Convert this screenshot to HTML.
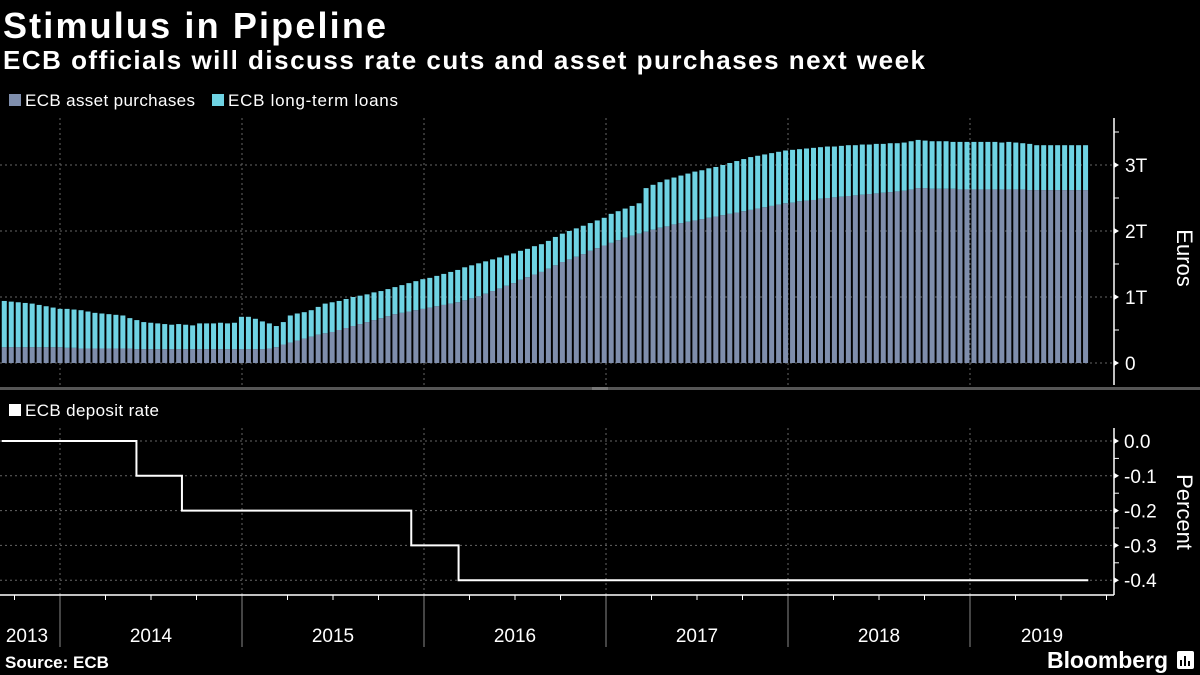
<!DOCTYPE html>
<html><head><meta charset="utf-8">
<style>
html,body{margin:0;padding:0;background:#000;}
svg{display:block;font-family:"Liberation Sans",sans-serif;}
</style></head>
<body>
<svg id="chart" width="1200" height="675" viewBox="0 0 1200 675">
<rect width="1200" height="675" fill="#000"/>
<text x="3" y="38" fill="#fff" font-size="36" font-weight="bold" textLength="383">Stimulus in Pipeline</text>
<text x="3" y="69" fill="#fff" font-size="26" font-weight="bold" textLength="922">ECB officials will discuss rate cuts and asset purchases next week</text>
<g>
<rect x="9" y="94" width="12" height="12" fill="#7f8eac"/>
<text x="25" y="106" fill="#fff" font-size="17" textLength="170">ECB asset purchases</text>
<rect x="212" y="94" width="12" height="12" fill="#6fd3e3"/>
<text x="228" y="106" fill="#fff" font-size="17" textLength="170">ECB long-term loans</text>
</g>
<rect x="0" y="387" width="1200" height="3" fill="#555"/>
<rect x="592" y="387" width="16" height="3" fill="#777"/>
<g>
<rect x="9" y="404" width="12" height="12" fill="#fff"/>
<text x="25" y="416" fill="#fff" font-size="17" textLength="134">ECB deposit rate</text>
</g>
<g id="grid"></g>
<g id="bars"></g>
<g id="rate"></g>
<g id="axes"></g>
<text x="5" y="668" fill="#fff" font-size="17" font-weight="bold">Source: ECB</text>
<text x="1047" y="668" fill="#fff" font-size="23" font-weight="bold" textLength="121">Bloomberg</text>
<rect x="1177" y="651" width="17" height="18" rx="2" fill="#fff"/>
<path d="M1181 666V660M1185 666V656M1189 666V661" stroke="#000" stroke-width="2"/>
</svg>
<script>
// ---- data ----
const startYear = 2013.68;            // first bi-weekly observation
const stepYears = 14 / 365.25;        // bi-weekly spacing
const totalBalance = [
0.94,0.93,0.92,0.91,0.90,0.88,0.86,0.84,0.82,0.82,
0.81,0.80,0.78,0.76,0.75,0.74,0.73,0.72,0.68,0.65,
0.62,0.61,0.60,0.59,0.58,0.59,0.58,0.57,0.60,0.60,
0.60,0.61,0.60,0.61,0.70,0.70,0.67,0.63,0.60,0.56,
0.62,0.72,0.75,0.77,0.80,0.85,0.90,0.92,0.94,0.97,
1.00,1.02,1.04,1.07,1.09,1.12,1.15,1.18,1.21,1.24,
1.27,1.29,1.32,1.35,1.38,1.41,1.45,1.48,1.51,1.54,
1.57,1.60,1.63,1.66,1.70,1.73,1.77,1.80,1.85,1.91,
1.96,2.00,2.04,2.08,2.12,2.16,2.20,2.26,2.30,2.34,
2.38,2.42,2.65,2.70,2.74,2.78,2.81,2.84,2.87,2.90,
2.92,2.95,2.97,3.00,3.03,3.06,3.09,3.12,3.14,3.16,
3.18,3.20,3.22,3.23,3.24,3.25,3.26,3.27,3.28,3.28,
3.29,3.30,3.30,3.31,3.31,3.32,3.32,3.33,3.33,3.34,
3.36,3.38,3.37,3.36,3.36,3.36,3.35,3.35,3.35,3.35,
3.35,3.35,3.35,3.34,3.35,3.34,3.33,3.32,3.30,3.30,
3.30,3.30,3.30,3.30,3.30,3.30];
const assetPurchases = [
0.24,0.24,0.24,0.24,0.24,0.24,0.24,0.24,0.24,0.23,
0.23,0.22,0.22,0.22,0.22,0.22,0.22,0.22,0.22,0.21,
0.21,0.21,0.21,0.21,0.21,0.21,0.21,0.21,0.21,0.21,
0.21,0.21,0.21,0.21,0.21,0.21,0.21,0.21,0.22,0.24,
0.28,0.31,0.34,0.37,0.40,0.43,0.45,0.47,0.50,0.53,
0.56,0.59,0.62,0.65,0.68,0.71,0.74,0.76,0.78,0.80,
0.82,0.84,0.86,0.88,0.90,0.92,0.95,0.98,1.01,1.05,
1.09,1.13,1.17,1.21,1.26,1.30,1.34,1.38,1.43,1.48,
1.53,1.57,1.61,1.65,1.70,1.74,1.78,1.82,1.86,1.90,
1.93,1.96,1.99,2.02,2.05,2.07,2.10,2.12,2.14,2.16,
2.18,2.20,2.22,2.24,2.26,2.28,2.30,2.32,2.34,2.36,
2.38,2.40,2.42,2.43,2.45,2.46,2.47,2.49,2.50,2.51,
2.52,2.53,2.54,2.55,2.56,2.57,2.58,2.59,2.60,2.61,
2.63,2.65,2.65,2.64,2.64,2.64,2.64,2.63,2.63,2.63,
2.63,2.63,2.63,2.63,2.63,2.63,2.63,2.62,2.62,2.62,
2.62,2.62,2.62,2.62,2.62,2.62];
const rateTimes = [2013.68, 2014.42, 2014.67, 2015.93, 2016.19, 2019.65];
const rateValues = [0, -0.1, -0.2, -0.3, -0.4, -0.4];
const yearLabels = ["2013","2014","2015","2016","2017","2018","2019"];
const euroTicks = [0,1,2,3];
const euroTickLabels = ["0","1T","2T","3T"];
const rateTicks = [0,-0.1,-0.2,-0.3,-0.4];
const rateTickLabels = ["0.0","-0.1","-0.2","-0.3","-0.4"];

// ---- scales ----
const NS = "http://www.w3.org/2000/svg";
const xT = t => 60 + (t - 2014) * 182;
const yE = v => 363 - v * 66;
const yR = v => 441 + (-v) * 348;
const AXX = 1114;
function mk(tag, attrs, parent) {
  const e = document.createElementNS(NS, tag);
  for (const k in attrs) e.setAttribute(k, attrs[k]);
  parent.appendChild(e);
  return e;
}
const grid = document.getElementById("grid");
const bars = document.getElementById("bars");
const rate = document.getElementById("rate");
const axes = document.getElementById("axes");

euroTicks.forEach(v => {
  const l = mk("line", {x1:0, x2:AXX, y1:yE(v), y2:yE(v), stroke:"#666", "stroke-width":1, "stroke-dasharray":"2,3"}, grid);
  
  
});
rateTicks.forEach(v => {
  const l = mk("line", {x1:0, x2:AXX, y1:yR(v), y2:yR(v), stroke:"#666", "stroke-width":1, "stroke-dasharray":"2,3"}, grid);
  
  
});
for (let y = 2014; y <= 2019; y++) {
  const x = xT(y);
  const a = mk("line", {x1:x, x2:x, y1:118, y2:385, stroke:"#666", "stroke-width":1, "stroke-dasharray":"2,3"}, grid);
  
  
  const b = mk("line", {x1:x, x2:x, y1:428, y2:595, stroke:"#666", "stroke-width":1, "stroke-dasharray":"2,3"}, grid);
  
  
  const c = mk("line", {x1:x, x2:x, y1:595, y2:647, stroke:"#888", "stroke-width":1}, grid);
  
  
}

const pitch = xT(startYear + stepYears) - xT(startYear);
const bw = pitch * 0.72;
totalBalance.forEach((tot, i) => {
  const x = xT(startYear + i * stepYears);
  const p = assetPurchases[i];
  const r1 = mk("rect", {x:x, y:yE(p), width:bw, height:yE(0) - yE(p), fill:"#7f8eac"}, bars);
  
  
  const r2 = mk("rect", {x:x, y:yE(tot), width:bw, height:yE(p) - yE(tot), fill:"#6fd3e3"}, bars);
  
  
});

let d = "";
rateTimes.forEach((t, i) => {
  const x = xT(t), y = yR(rateValues[i]);
  if (i === 0) d += "M" + x + " " + y;
  else d += "H" + x + "V" + y;
});
const rp = mk("path", {d:d, fill:"none", stroke:"#fff", "stroke-width":2}, rate);



const ax1 = mk("line", {x1:AXX, x2:AXX, y1:118, y2:385, stroke:"#fff", "stroke-width":1.5}, axes);


const ax2 = mk("line", {x1:AXX, x2:AXX, y1:428, y2:595, stroke:"#fff", "stroke-width":1.5}, axes);


const ax3 = mk("line", {x1:0, x2:AXX, y1:595, y2:595, stroke:"#fff", "stroke-width":1.5}, axes);


euroTicks.forEach((v, i) => {
  const y = yE(v);
  const tk = mk("path", {d:"M"+AXX+" "+(y-3)+"L"+(AXX+5)+" "+y+"L"+AXX+" "+(y+3)+"Z", fill:"#fff"}, axes);
  
  
  const mt = mk("line", {x1:AXX, x2:AXX+5, y1:yE(v+0.5), y2:yE(v+0.5), stroke:"#fff"}, axes);
  
  
  const t = mk("text", {x:AXX+11, y:y+7, fill:"#fff", "font-size":19}, axes);
  t.textContent = euroTickLabels[i];
  
  
});
rateTicks.forEach((v, i) => {
  const y = yR(v);
  const tk = mk("path", {d:"M"+AXX+" "+(y-3)+"L"+(AXX+5)+" "+y+"L"+AXX+" "+(y+3)+"Z", fill:"#fff"}, axes);
  
  
  if (i > 0) {
    const mt = mk("line", {x1:AXX, x2:AXX+5, y1:yR(v+0.05), y2:yR(v+0.05), stroke:"#fff"}, axes);
    
    
  }
  const t = mk("text", {x:AXX+10, y:y+7, fill:"#fff", "font-size":19}, axes);
  t.textContent = rateTickLabels[i];
  
  
});
for (let q = 2013.75; q <= 2019.75; q += 0.25) {
  if (Math.abs(q - Math.round(q)) < 0.01) continue;
  const x = xT(q);
  if (x < 0 || x > AXX) continue;
  const qt = mk("line", {x1:x, x2:x, y1:595, y2:600, stroke:"#fff"}, axes);
  
  
}
yearLabels.forEach((lab, i) => {
  const yr = 2013 + i;
  let cx = (Math.max(xT(yr), 0) + Math.min(xT(yr + 1), AXX)) / 2;
  if (yr === 2013) cx = 27;
  const t = mk("text", {x:cx, y:642, fill:"#fff", "font-size":19, "text-anchor":"middle"}, axes);
  t.textContent = lab;
  
  
});
const et = mk("text", {x:0, y:0, fill:"#fff", "font-size":22, "text-anchor":"middle", transform:"translate(1177,258) rotate(90)"}, axes);
et.textContent = "Euros";


const pt = mk("text", {x:0, y:0, fill:"#fff", "font-size":22, "text-anchor":"middle", transform:"translate(1177,512) rotate(90)"}, axes);
pt.textContent = "Percent";


</script>
</body></html>
